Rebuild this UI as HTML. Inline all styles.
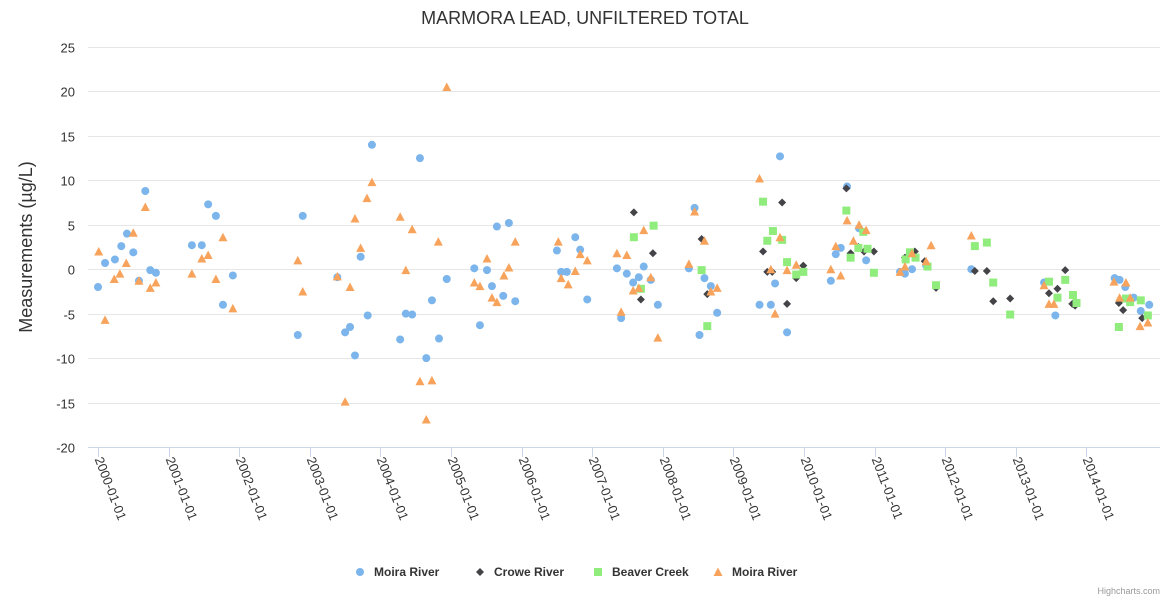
<!DOCTYPE html>
<html><head><meta charset="utf-8">
<style>
body{margin:0;background:#fff;font-family:"Liberation Sans",sans-serif;}
svg text{font-family:"Liberation Sans",sans-serif;}
</style></head>
<body>
<svg id="chart" width="1170" height="600" xmlns="http://www.w3.org/2000/svg">
<rect x="0" y="0" width="1170" height="600" fill="#fff"/>
<text x="585" y="24" text-anchor="middle" font-size="18" fill="#333">MARMORA LEAD, UNFILTERED TOTAL</text>
<text transform="translate(32,247) rotate(-90)" text-anchor="middle" font-size="18" fill="#333">Measurements (µg/L)</text>
<g id="grid"></g><g id="xaxis"></g><g id="marks"></g>
<g id="legend"></g>
<text x="1160" y="594" text-anchor="end" font-size="9" fill="#999">Highcharts.com</text>
</svg>
<script>
const yTicks=[-20,-15,-10,-5,0,5,10,15,20,25];
const xYears=[2000,2001,2002,2003,2004,2005,2006,2007,2008,2009,2010,2011,2012,2013,2014];
const seriesNames=["Moira River","Crowe River","Beaver Creek","Moira River"];
const moiraX=[2000.0,2000.1,2000.24,2000.33,2000.41,2000.5,2000.58,2000.67,2000.74,2000.82,2001.33,2001.47,2001.56,2001.67,2001.77,2001.91,2002.83,2002.9,2003.39,2003.5,2003.57,2003.64,2003.72,2003.82,2003.88,2004.28,2004.36,2004.45,2004.56,2004.65,2004.73,2004.83,2004.94,2005.33,2005.41,2005.51,2005.58,2005.65,2005.74,2005.82,2005.91,2006.5,2006.56,2006.64,2006.76,2006.83,2006.93,2007.35,2007.41,2007.49,2007.58,2007.66,2007.73,2007.83,2007.93,2008.37,2008.45,2008.52,2008.59,2008.68,2008.77,2009.37,2009.53,2009.59,2009.66,2009.76,2010.38,2010.45,2010.52,2010.61,2010.78,2010.88,2011.36,2011.43,2011.53,2011.73,2012.37,2013.4,2013.56,2014.4,2014.47,2014.55,2014.67,2014.77,2014.89];
const moiraY=[-2,0.7,1.1,2.6,4.0,1.9,-1.3,8.8,-0.1,-0.4,2.7,2.7,7.3,6.0,-4.0,-0.7,-7.4,6.0,-0.9,-7.1,-6.5,-9.7,1.4,-5.2,14.0,-7.9,-5.0,-5.1,12.5,-10.0,-3.5,-7.8,-1.1,0.1,-6.3,-0.1,-1.9,4.8,-3.0,5.2,-3.6,2.1,-0.3,-0.3,3.6,2.2,-3.4,0.1,-5.5,-0.5,-1.5,-0.9,0.3,-1.2,-4.0,0.1,6.9,-7.4,-1.0,-1.9,-4.9,-4.0,-4.0,-1.6,12.7,-7.1,-1.3,1.7,2.4,9.3,4.6,1.0,-0.3,-0.5,0.0,0.4,0.0,-1.5,-5.2,-1.0,-1.2,-2.0,-3.2,-4.7,-4.0];
const croweX=[2007.59,2007.69,2007.86,2008.55,2008.63,2009.42,2009.48,2009.55,2009.69,2009.76,2009.89,2009.99,2010.6,2010.66,2010.77,2010.85,2010.99,2011.43,2011.57,2011.71,2011.87,2012.42,2012.59,2012.68,2012.92,2013.47,2013.59,2013.7,2013.8,2013.84,2014.46,2014.52,2014.79,2014.87];
const croweY=[6.4,-3.4,1.8,3.4,-2.8,2.0,-0.3,-0.3,7.5,-3.9,-1.0,0.4,9.1,1.8,2.5,2.0,2.0,1.3,2.0,0.9,-2.1,-0.2,-0.2,-3.6,-3.3,-2.7,-2.2,-0.1,-3.9,-4.1,-3.8,-4.6,-5.5,-5.2];
const beaverX=[2007.59,2007.69,2007.87,2008.55,2008.63,2009.42,2009.48,2009.56,2009.69,2009.76,2009.89,2009.99,2010.6,2010.66,2010.77,2010.84,2010.9,2010.99,2011.44,2011.5,2011.58,2011.75,2011.87,2012.42,2012.59,2012.68,2012.92,2013.47,2013.59,2013.7,2013.81,2013.86,2014.46,2014.56,2014.62,2014.77,2014.87];
const beaverY=[3.6,-2.2,4.9,-0.1,-6.4,7.6,3.2,4.3,3.3,0.8,-0.6,-0.3,6.6,1.3,2.4,4.2,2.3,-0.4,1.1,1.9,1.3,0.3,-1.8,2.6,3.0,-1.5,-5.1,-1.4,-3.2,-1.2,-2.9,-3.8,-6.5,-3.3,-3.7,-3.5,-5.2];
const moira2X=[2000.01,2000.1,2000.23,2000.31,2000.4,2000.5,2000.58,2000.67,2000.74,2000.82,2001.33,2001.47,2001.56,2001.67,2001.77,2001.91,2002.83,2002.9,2003.39,2003.5,2003.57,2003.64,2003.72,2003.81,2003.88,2004.28,2004.36,2004.45,2004.56,2004.65,2004.73,2004.82,2004.94,2005.33,2005.41,2005.51,2005.58,2005.65,2005.75,2005.82,2005.91,2006.52,2006.56,2006.66,2006.76,2006.83,2006.93,2007.35,2007.41,2007.49,2007.58,2007.66,2007.73,2007.83,2007.93,2008.37,2008.45,2008.59,2008.68,2008.77,2009.37,2009.53,2009.59,2009.66,2009.76,2009.89,2010.38,2010.45,2010.52,2010.61,2010.7,2010.78,2010.88,2011.36,2011.43,2011.53,2011.73,2011.8,2012.37,2013.4,2013.47,2013.54,2014.39,2014.47,2014.56,2014.62,2014.76,2014.87];
const moira2Y=[2.0,-5.7,-1.1,-0.5,0.7,4.1,-1.3,7.0,-2.1,-1.5,-0.5,1.2,1.6,-1.1,3.6,-4.4,1.0,-2.5,-0.8,-14.9,-2.0,5.7,2.4,8.0,9.8,5.9,-0.1,4.5,-12.6,-16.9,-12.5,3.1,20.5,-1.5,-1.9,1.2,-3.2,-3.7,-0.7,0.2,3.1,3.1,-1.0,-1.7,-0.2,1.7,1.0,1.8,-4.8,1.6,-2.4,-2.1,4.4,-0.9,-7.7,0.6,6.5,3.2,-2.5,-2.1,10.2,0.0,-5.0,3.6,-0.1,0.5,0.0,2.6,-0.7,5.5,3.2,5.0,4.4,-0.3,0.3,1.8,0.9,2.7,3.8,-1.8,-3.9,-3.9,-1.4,-3.2,-1.5,-3.2,-6.4,-6.0];

const NS="http://www.w3.org/2000/svg";
const L=88,R=1160,T=47,B=447;
const yMin=-20,yMax=25;
const xScale=v=>98+(v-2000)*70.6;
const yScale=v=>B-(v-yMin)/(yMax-yMin)*(B-T);
function mk(tag,attrs,parent){const e=document.createElementNS(NS,tag);for(const k in attrs)e.setAttribute(k,attrs[k]);parent.appendChild(e);return e;}
const grid=document.getElementById('grid');
yTicks.forEach(t=>{
  const y=Math.round(yScale(t))+0.5;
  if(t!==yMin){const ln=mk('line',{x1:L,x2:R,y1:y,y2:y,stroke:'#e6e6e6','stroke-width':1},grid);
  
  }
  const tx=mk('text',{x:75,y:y+5,'text-anchor':'end','font-size':13,fill:'#333'},grid);
  tx.textContent=t;
  
  
});
const xa=document.getElementById('xaxis');
const axl=mk('line',{x1:L,x2:R,y1:B+0.5,y2:B+0.5,stroke:'#ccd6eb','stroke-width':1},xa);


xYears.forEach(yr=>{
  const x=Math.round(xScale(yr))+0.5;
  const tk=mk('line',{x1:x,x2:x,y1:B,y2:B+10,stroke:'#ccd6eb'},xa);
  
  
  const tx=mk('text',{transform:`translate(${x-4},${B+12}) rotate(69)`,'font-size':13,fill:'#333'},xa);
  tx.textContent=yr+'-01-01';
  
  
});
const marks=document.getElementById('marks');
const colors=['#7cb5ec','#434348','#90ed7d','#f7a35c'];
function drawMarker(shape,cx,cy,color,parent){
  let e;
  if(shape==='circle')e=mk('circle',{cx,cy,r:4,fill:color},parent);
  else if(shape==='diamond')e=mk('path',{d:`M${cx} ${cy-4}L${cx+4} ${cy}L${cx} ${cy+4}L${cx-4} ${cy}Z`,fill:color},parent);
  else if(shape==='square')e=mk('rect',{x:cx-4,y:cy-4,width:8,height:8,fill:color},parent);
  else e=mk('path',{d:`M${cx} ${cy-4.5}L${cx+4.5} ${cy+4}L${cx-4.5} ${cy+4}Z`,fill:color},parent);
  return e;
}
const sets=[[moiraX,moiraY,'circle'],[croweX,croweY,'diamond'],[beaverX,beaverY,'square'],[moira2X,moira2Y,'triangle']];
sets.forEach((s,si)=>{
  const g=mk('g',{},marks);
  
  
  s[0].forEach((xv,i)=>{
    const p=drawMarker(s[2],xScale(xv),yScale(s[1][i]),colors[si],g);
    
    
  });
});
const lg=document.getElementById('legend');
const legX=[360,480,598,718];
seriesNames.forEach((n,i)=>{
  const g=mk('g',{},lg);
  
  
  drawMarker(sets[i][2],legX[i],572,colors[i],g);
  const t=mk('text',{x:legX[i]+14,y:576,'font-size':12,'font-weight':'bold',fill:'#333'},g);
  t.textContent=n;
});
</script>
</body></html>
